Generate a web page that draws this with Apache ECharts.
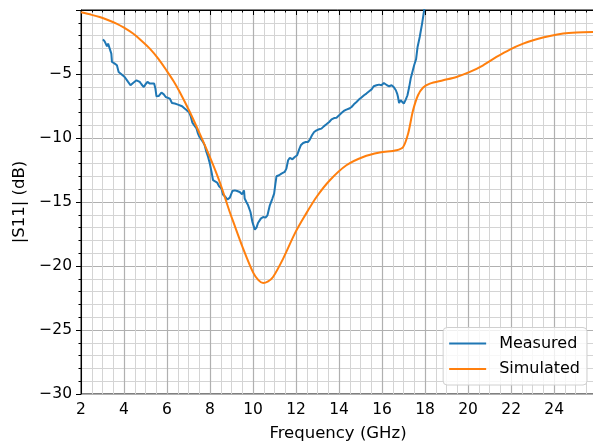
<!DOCTYPE html>
<html>
<head>
<meta charset="utf-8">
<script src="https://cdn.jsdelivr.net/npm/echarts@6/dist/echarts.min.js"></script>
<style>html,body{margin:0;padding:0;background:#fff}#c{width:593px;height:441px}</style>
</head>
<body>
<div id="c"></div>
<script>
var measuredFreq = [3.02,3.10,3.15,3.21,3.26,3.33,3.41,3.44,3.57,3.67,3.75,3.88,4.03,4.19,4.30,4.42,4.58,4.65,4.73,4.81,4.92,5.00,5.09,5.20,5.27,5.40,5.46,5.51,5.61,5.74,5.85,5.94,6.02,6.13,6.23,6.36,6.51,6.70,6.82,6.92,7.02,7.10,7.18,7.26,7.37,7.44,7.50,7.57,7.67,7.75,7.83,7.91,7.99,8.07,8.14,8.22,8.33,8.42,8.53,8.60,8.72,8.81,8.92,9.04,9.15,9.26,9.38,9.49,9.58,9.61,9.69,9.77,9.88,9.97,10.08,10.16,10.23,10.36,10.47,10.58,10.67,10.78,10.90,10.98,11.04,11.09,11.21,11.32,11.47,11.55,11.63,11.71,11.83,11.94,12.05,12.14,12.22,12.33,12.45,12.56,12.64,12.74,12.84,12.95,13.07,13.18,13.29,13.41,13.54,13.65,13.77,13.88,14.00,14.11,14.22,14.34,14.47,14.58,14.69,14.81,14.93,15.04,15.16,15.27,15.40,15.51,15.61,15.74,15.86,15.97,16.08,16.17,16.23,16.33,16.44,16.54,16.64,16.70,16.74,16.79,16.86,16.95,17.01,17.10,17.18,17.26,17.33,17.41,17.49,17.58,17.65,17.75,17.86,17.95,18.05];
var measuredS11 = [-2.29,-2.45,-2.58,-2.84,-2.63,-2.76,-3.41,-4.06,-4.19,-4.32,-4.84,-5.02,-5.23,-5.62,-5.88,-5.70,-5.49,-5.41,-5.62,-5.80,-6.02,-5.80,-5.62,-5.75,-5.67,-5.75,-6.14,-6.74,-6.72,-6.45,-6.59,-6.80,-6.72,-6.92,-7.27,-7.31,-7.39,-7.52,-7.70,-7.84,-7.97,-8.30,-8.80,-9.00,-9.25,-9.66,-9.90,-10.05,-10.30,-10.57,-11.09,-11.48,-12.0,-12.65,-13.3,-13.44,-13.48,-13.77,-13.95,-14.42,-14.61,-14.81,-14.66,-14.14,-14.09,-14.14,-14.22,-14.40,-14.09,-14.73,-15.0,-15.26,-15.78,-16.56,-17.16,-17.0,-16.64,-16.30,-16.17,-16.22,-16.04,-15.26,-14.73,-14.34,-13.56,-12.99,-12.91,-12.78,-12.65,-12.39,-11.74,-11.56,-11.66,-11.48,-11.35,-10.91,-10.57,-10.39,-10.31,-10.31,-10.13,-9.79,-9.53,-9.40,-9.32,-9.27,-9.09,-8.93,-8.75,-8.54,-8.44,-8.41,-8.23,-8.05,-7.89,-7.78,-7.70,-7.58,-7.37,-7.19,-6.98,-6.84,-6.66,-6.53,-6.35,-6.20,-5.96,-5.88,-5.83,-5.88,-5.70,-5.62,-5.88,-5.96,-5.88,-6.02,-6.27,-6.53,-6.80,-7.27,-7.05,-7.00,-7.31,-7.00,-6.66,-6.02,-5.36,-4.84,-4.32,-3.85,-2.89,-2.11,-1.06,-0.08,1.0];
var simFreq = [2.0,2.5,2.87,3.25,3.65,4.0,4.42,4.8,5.2,5.6,5.97,6.3,6.59,7.06,7.52,7.99,8.45,8.92,9.07,9.53,10.0,10.25,10.47,10.7,10.93,11.40,11.94,12.40,12.95,13.57,14.34,15.12,15.89,16.67,16.98,17.21,17.44,17.67,17.91,18.22,18.84,19.46,20.08,20.70,21.32,21.94,22.56,23.18,23.80,24.42,25.04,25.9];
var simS11 = [-0.18,-0.38,-0.55,-0.78,-1.06,-1.38,-1.84,-2.38,-3.02,-3.82,-4.71,-5.55,-6.41,-7.97,-9.66,-11.48,-13.44,-15.8,-16.5,-18.6,-20.5,-21.1,-21.33,-21.2,-20.86,-19.42,-17.47,-16.1,-14.61,-13.3,-12.13,-11.48,-11.14,-10.96,-10.70,-9.66,-7.84,-6.66,-6.06,-5.75,-5.49,-5.23,-4.84,-4.32,-3.67,-3.09,-2.63,-2.29,-2.03,-1.84,-1.76,-1.72];
var seriesNames = ['Measured', 'Simulated'];
var xTickValues = [2,4,6,8,10,12,14,16,18,20,22,24];
var yTickValues = [-30,-25,-20,-15,-10,-5];

function zip(a, b) { return a.map(function (v, i) { return [v, b[i]]; }); }
var FONT = 'DejaVu Sans';
function minus(v) { return String(v).replace('-', '\u2212'); }

var chart = echarts.init(document.getElementById('c'), null, {renderer: 'canvas'});
chart.setOption({
  animation: false,
  backgroundColor: '#fff',
  grid: {left: 81, right: -2, top: 10, bottom: 47, containLabel: false, outerBoundsMode: 'none',
         show: true, borderColor: '#000', borderWidth: 1, backgroundColor: 'transparent'},
  legend: {
    data: seriesNames,
    orient: 'vertical', right: 6, bottom: 56,
    icon: 'rect', itemWidth: 37, itemHeight: 2, itemGap: 9.5,
    padding: [8, 7, 8, 6],
    backgroundColor: 'rgba(255,255,255,0.8)', borderColor: '#d0d0d0', borderWidth: 1, borderRadius: 4,
    textStyle: {fontFamily: FONT, fontSize: 16, color: '#000', padding: [0, 0, 0, 8]}
  },
  xAxis: {
    type: 'value', min: 2, max: 25.9, interval: 2,
    name: 'Frequency (GHz)', nameLocation: 'middle', nameGap: 31,
    nameTextStyle: {fontFamily: FONT, fontSize: 16.5, color: '#000'},
    axisLine: {show: true, lineStyle: {color: '#000', width: 1}},
    axisTick: {show: true, length: 5, lineStyle: {color: '#000'}},
    minorTick: {show: true, splitNumber: 4, length: 2.5, lineStyle: {color: '#000'}},
    splitLine: {show: true, lineStyle: {color: '#b0b0b0', width: 1.2}},
    minorSplitLine: {show: true, lineStyle: {color: '#d4d4d4', width: 1}},
    axisLabel: {fontFamily: FONT, fontSize: 15.5, color: '#000', margin: 8, showMaxLabel: false,
      formatter: function (v) { return xTickValues.indexOf(v) >= 0 ? minus(v) : ''; }}
  },
  yAxis: {
    type: 'value', min: -30, max: 0, interval: 5,
    name: '|S11| (dB)', nameLocation: 'middle', nameGap: 52,
    nameTextStyle: {fontFamily: FONT, fontSize: 16.5, color: '#000'},
    axisLine: {show: true, lineStyle: {color: '#000', width: 1}},
    axisTick: {show: true, length: 5, lineStyle: {color: '#000'}},
    minorTick: {show: true, splitNumber: 5, length: 2.5, lineStyle: {color: '#000'}},
    splitLine: {show: true, lineStyle: {color: '#b0b0b0', width: 1.2}},
    minorSplitLine: {show: true, lineStyle: {color: '#d4d4d4', width: 1}},
    axisLabel: {fontFamily: FONT, fontSize: 15.5, color: '#000', margin: 9,
      formatter: function (v) { return yTickValues.indexOf(v) >= 0 ? minus(v) : ''; }}
  },
  series: [
    {name: seriesNames[0], type: 'line', data: zip(measuredFreq, measuredS11), symbol: 'none', clip: true,
     lineStyle: {color: '#1f77b4', width: 2}, itemStyle: {color: '#1f77b4'}},
    {name: seriesNames[1], type: 'line', data: zip(simFreq, simS11), symbol: 'none', smooth: 0.3, clip: true,
     lineStyle: {color: '#ff7f0e', width: 2}, itemStyle: {color: '#ff7f0e'}}
  ]
});
</script>
</body>
</html>
